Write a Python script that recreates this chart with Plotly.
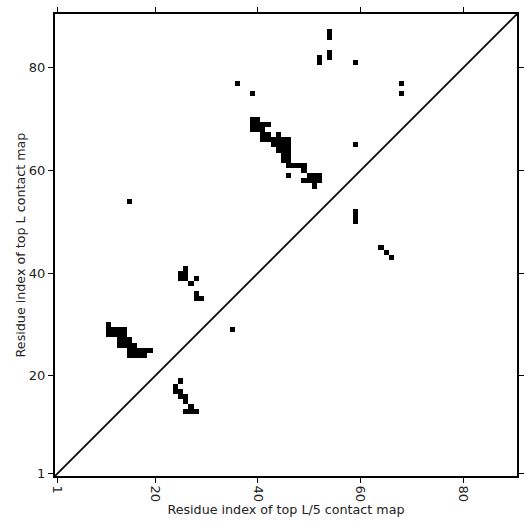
import numpy as np
import plotly.graph_objects as go

L = 90
# contact cells (residue i on x, residue j on y)
contact_x = [11,
             11, 12, 13, 14,
             11, 12, 13, 14,
             13, 14, 15,
             13, 14, 15, 16,
             15, 16, 17, 18, 19,
             15, 16, 17, 18,
             25, 24, 24, 25, 25, 26, 26, 27, 26, 27, 28,
             25, 25, 26, 26, 26, 27, 28, 28, 28, 29,
             35, 15,
             39, 39, 39, 40, 40, 40, 41, 42, 41, 41, 42, 41, 42, 44,
             43, 44, 45, 46, 43, 44, 45, 46, 44, 45, 46,
             45, 46, 45, 46, 46, 47, 48, 49, 49, 46,
             49, 50, 51, 52, 50, 51, 52, 51,
             54, 54, 54, 54, 52, 52, 59, 68, 68, 36, 39, 59,
             59, 59, 59, 64, 65, 66]
contact_y = [30,
             29, 29, 29, 29,
             28, 28, 28, 28,
             27, 27, 27,
             26, 26, 26, 26,
             25, 25, 25, 25, 25,
             24, 24, 24, 24,
             19, 18, 17, 17, 16, 16, 15, 14, 13, 13, 13,
             39, 40, 39, 40, 41, 38, 39, 36, 35, 35,
             29, 54,
             68, 69, 70, 68, 69, 70, 69, 69, 68, 67, 67, 66, 66, 67,
             66, 66, 66, 66, 65, 65, 65, 65, 64, 64, 64,
             63, 63, 62, 62, 61, 61, 61, 61, 60, 59,
             58, 58, 58, 58, 59, 59, 59, 57,
             86, 87, 82, 83, 81, 82, 81, 77, 75, 77, 75, 65,
             50, 51, 52, 45, 44, 43]

tick_vals = [1, 20, 40, 60, 80]
tick_text = ["1", "20", "40", "60", "80"]

z = np.zeros((L, L))
for xi, yi in zip(contact_x, contact_y):
    z[yi - 1, xi - 1] = 1

idx = list(range(1, L + 1))
lo, hi = 0.5, L + 0.5

fig = go.Figure()
fig.add_trace(go.Heatmap(
    x=idx, y=idx, z=z,
    colorscale=[[0, "white"], [1, "black"]],
    zmin=0, zmax=1, showscale=False, hoverinfo="skip", zsmooth=False,
))
fig.add_trace(go.Scatter(
    x=[lo, hi], y=[lo, hi], mode="lines",
    line=dict(color="black", width=1.8), showlegend=False, hoverinfo="skip",
))

font_t = dict(family="DejaVu Sans", size=13, color="#222")
axis_common = dict(
    range=[lo, hi], tickvals=tick_vals, ticktext=tick_text,
    showgrid=False, zeroline=False, showline=True, linecolor="black",
    linewidth=2, mirror="ticks", ticks="outside", ticklen=5, tickwidth=1,
    tickcolor="black", tickfont=font_t, automargin=False,
)

fig.update_layout(
    width=531, height=531,
    margin=dict(l=55, r=14, t=14, b=55),
    paper_bgcolor="white", plot_bgcolor="white",
    showlegend=False,
    xaxis=dict(**axis_common, tickangle=90,
               title=dict(text="Residue index of top L/5 contact map",
                          font=dict(family="DejaVu Sans", size=12.7, color="#222"),
                          standoff=0)),
    yaxis=dict(**axis_common,
               title=dict(text="Residue index of top L contact map",
                          font=dict(family="DejaVu Sans", size=12.7, color="#222"),
                          standoff=0)),
)

fig.write_html("out.html", config={"displayModeBar": False},
               post_script="document.body.style.margin='0';")
